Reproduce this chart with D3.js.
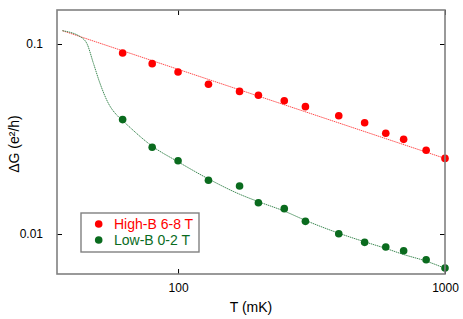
<!DOCTYPE html>
<html>
<head>
<meta charset="utf-8">
<script src="https://cdn.jsdelivr.net/npm/d3@7"></script>
<style>
  body { margin: 0; background: #fff; }
  text { font-family: "Liberation Sans", Arial, sans-serif; }
</style>
</head>
<body>
<div id="chart"></div>
<script>
// Data
var temps = [62, 80, 100, 130, 170, 200, 250, 300, 400, 500, 600, 700, 850, 1000];
var highB = [0.0897, 0.0788, 0.0712, 0.0614, 0.0563, 0.0537, 0.0503, 0.0468, 0.0419, 0.0385, 0.0339, 0.0315, 0.0276, 0.0250];
var lowB = [0.0400, 0.0286, 0.0243, 0.0192, 0.0179, 0.0146, 0.0136, 0.01166, 0.01004, 0.00904, 0.00855, 0.00817, 0.00732, 0.00662];

// fit curves
var highFitT = [36.9, 1000];
var highFitG = [0.1175, 0.0250];
var lowFitT = [36.9, 43.6, 45.5, 48.2, 51.0, 54.8, 59.8, 62, 80, 100, 130, 170, 200, 250, 300, 400, 500, 600, 700, 850, 1000];
var lowFitG = [0.1175, 0.1079, 0.1009, 0.0791, 0.0621, 0.0488, 0.0414, 0.0395, 0.0290, 0.0240, 0.0195, 0.0162, 0.0148, 0.0132, 0.0118, 0.0101, 0.0091, 0.0084, 0.0078, 0.0072, 0.0066];

var xTicks = [100, 1000];
var yTicks = [0.01, 0.1];

var series = [
  { name: "High-B 6-8 T", values: highB, fitT: highFitT, fitG: highFitG, color: "#ff0000", lineColor: "#ff5050" },
  { name: "Low-B 0-2 T", values: lowB, fitT: lowFitT, fitG: lowFitG, color: "#0a6b1e", lineColor: "#3f8a55" }
];

var width = 463;
var height = 319;
var margin = { top: 10, left: 57, right: 18, bottom: 45 };
var w = width - margin.left - margin.right;
var h = height - margin.top - margin.bottom;

var svg = d3.select("#chart")
  .append("svg")
  .attr("width", width)
  .attr("height", height)
  .append("g")
  .attr("transform", "translate(" + margin.left + "," + margin.top + ")");

var x_scale = d3.scaleLog().domain([35.2, 1000]).range([0, w]);
var y_scale = d3.scaleLog().domain([0.00616, 0.151]).range([h, 0]);

// fit lines
var line = d3.line()
  .x(function(d) { return x_scale(d[0]); })
  .y(function(d) { return y_scale(d[1]); })
  .curve(d3.curveMonotoneX);

series.forEach(function(s) {
  svg.append("path")
    .datum(s.fitT.map(function(t, i) { return [t, s.fitG[i]]; }))
    .attr("d", line)
    .attr("fill", "none")
    .attr("stroke", s.lineColor)
    .attr("stroke-width", 1)
    .attr("stroke-dasharray", "1.5,0.7");
});

// points
series.forEach(function(s) {
  svg.selectAll(null)
    .data(temps)
    .enter()
    .append("circle")
    .attr("cx", function(d) { return x_scale(d); })
    .attr("cy", function(d, i) { return y_scale(s.values[i]); })
    .attr("r", 3.8)
    .attr("fill", s.color);
});

// axes: ticks point inward, mirrored top/right
function styleAxis(g) {
  g.select(".domain").remove();
  g.selectAll(".tick line").attr("stroke", "#000");
  g.selectAll(".tick text")
    .attr("fill", "#000")
    .style("font-size", "12px")
    .style("font-family", "Liberation Sans, Arial, sans-serif");
}

svg.append("g")
  .attr("transform", "translate(0," + h + ")")
  .call(d3.axisBottom(x_scale).tickValues(xTicks).tickSize(-5).tickPadding(9).tickFormat(d3.format("d")))
  .call(styleAxis);

svg.append("g")
  .call(d3.axisTop(x_scale).tickValues(xTicks).tickSize(-5).tickFormat(""))
  .call(styleAxis);

svg.append("g")
  .call(d3.axisLeft(y_scale).tickValues(yTicks).tickSize(-5).tickPadding(14).tickFormat(function(d) { return d; }))
  .call(styleAxis);

svg.append("g")
  .attr("transform", "translate(" + w + ",0)")
  .call(d3.axisRight(y_scale).tickValues(yTicks).tickSize(-5).tickFormat(""))
  .call(styleAxis);

// frame
svg.append("rect")
  .attr("width", w)
  .attr("height", h)
  .attr("fill", "none")
  .attr("stroke", "#808080")
  .attr("stroke-width", 1.6);

// axis labels
svg.append("text")
  .attr("x", w / 2)
  .attr("y", h + 38)
  .attr("text-anchor", "middle")
  .style("font-size", "14px")
  .text("T (mK)");

svg.append("text")
  .attr("transform", "rotate(-90)")
  .attr("x", -(h / 2) - 2)
  .attr("y", -38)
  .attr("text-anchor", "middle")
  .style("font-size", "14px")
  .text("ΔG (e²/h)");

// legend
var legend = svg.append("g")
  .attr("transform", "translate(" + (81 - margin.left) + "," + (213 - margin.top) + ")");

legend.append("rect")
  .attr("width", 118)
  .attr("height", 39)
  .attr("fill", "#fff")
  .attr("stroke", "#808080")
  .attr("stroke-width", 1.4);

series.forEach(function(s, i) {
  legend.append("circle")
    .attr("cx", 17.7)
    .attr("cy", 11 + i * 16)
    .attr("r", 3.8)
    .attr("fill", s.color);
  legend.append("text")
    .attr("x", 33)
    .attr("y", 16 + i * 16)
    .attr("fill", s.color)
    .style("font-size", "14px")
    .text(s.name);
});
</script>
</body>
</html>
